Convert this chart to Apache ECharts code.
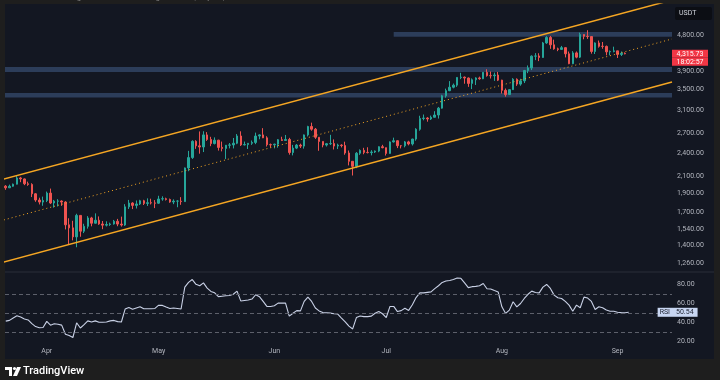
<!DOCTYPE html>
<html><head><meta charset="utf-8">
<script src="https://cdn.jsdelivr.net/npm/echarts@6/dist/echarts.min.js"></script>
<style>html,body{margin:0;padding:0;background:#1e1e1e;}#c{width:720px;height:380px;}</style>
</head><body><div id="c"></div>
<script>
// Daily ETH/USDT candles, index 0 = 2025-03-21, last = 2025-09-03
const monthLabels = ['Apr','May','Jun','Jul','Aug','Sep'];
const monthStartIndex = [11,41,72,102,133,164];

const open = [1983,1964,1982,2006,2081,2069,2011,2003,1896,1828,1806,
1822,1904,1796,1816,1817,1806,1580,1552,1472,1670,1522,1566,1645,1595,1623,1588,1577,1583,1588,1613,1587,1578,1756,1796,1771,1786,1820,1792,1799,1797,
1794,1839,1842,1834,1807,1816,1816,1811,2207,2345,2581,2513,2496,2680,2609,2547,2598,2490,2475,2522,2527,2552,2663,2527,2532,2551,2564,2662,2680,2634,2531,
2528,2538,2605,2594,2609,2416,2480,2524,2509,2680,2815,2771,2643,2579,2525,2545,2547,2510,2524,2517,2410,2295,2228,2406,2447,2418,2415,2424,2437,2500,
2486,2404,2572,2590,2515,2514,2572,2541,2615,2770,2952,2959,2943,2972,3012,3136,3372,3475,3546,3590,3756,3762,3743,3627,3705,3745,3727,3871,3796,3794,3810,
3697,3482,3396,3496,3717,3612,3681,3911,3971,4256,4262,4223,4600,4751,4550,4443,4429,4474,4315,4072,4339,4232,4833,4784,4776,4376,4600,4510,4508,4365,4376,
4391,4300,4328];
const close = [1964,1982,2006,2081,2069,2011,2003,1896,1828,1806,1822,
1904,1796,1816,1817,1806,1580,1552,1472,1670,1522,1566,1645,1595,1623,1588,1577,1583,1588,1613,1587,1578,1756,1796,1771,1786,1820,1792,1799,1797,1794,
1839,1842,1834,1807,1816,1816,1811,2207,2345,2581,2513,2496,2680,2609,2547,2598,2490,2475,2522,2527,2552,2663,2527,2532,2551,2564,2662,2680,2634,2531,2528,
2538,2605,2594,2609,2416,2480,2524,2509,2680,2815,2771,2643,2579,2525,2545,2547,2510,2524,2517,2410,2295,2228,2406,2447,2418,2415,2424,2437,2500,2486,
2404,2572,2590,2515,2514,2572,2541,2615,2770,2952,2959,2943,2972,3012,3136,3372,3475,3546,3590,3756,3762,3743,3627,3705,3745,3727,3871,3796,3794,3810,3697,
3482,3396,3496,3717,3612,3681,3911,3971,4256,4262,4223,4600,4751,4550,4443,4429,4474,4315,4072,4339,4232,4833,4784,4776,4376,4600,4510,4508,4365,4376,4391,
4300,4328,4315.73];
const high = [1995,2001,2013,2104,2094,2074,2036,2017,1904,1853,1865,
1921,1955,1829,1837,1824,1815,1642,1618,1686,1673,1590,1663,1656,1690,1660,1616,1613,1600,1626,1636,1658,1784,1829,1804,1823,1830,1830,1846,1842,1827,
1874,1868,1853,1843,1835,1826,1859,2212,2440,2596,2597,2735,2738,2724,2650,2641,2604,2577,2514,2555,2632,2693,2737,2577,2553,2593,2716,2690,2788,2659,2547,
2545,2616,2651,2679,2634,2527,2540,2545,2686,2827,2880,2791,2643,2579,2556,2681,2610,2545,2537,2575,2445,2296,2423,2461,2484,2492,2450,2445,2507,2528,
2487,2580,2637,2595,2522,2586,2589,2620,2787,2999,3021,2975,3002,3080,3158,3392,3517,3676,3624,3762,3860,3776,3755,3734,3760,3774,3874,3941,3889,3864,3880,
3705,3520,3504,3740,3735,3726,3926,4030,4276,4333,4330,4628,4787,4793,4690,4475,4520,4485,4374,4383,4375,4887,4840,4957,4790,4616,4665,4626,4530,4400,4500,
4392,4375,4352];
const low = [1941,1962,1976,2003,2030,1995,1987,1860,1809,1781,1767,
1806,1785,1748,1760,1766,1538,1411,1442,1385,1473,1505,1545,1566,1592,1580,1540,1565,1570,1582,1567,1564,1570,1734,1733,1739,1775,1775,1765,1781,1743,
1787,1820,1823,1799,1784,1752,1777,1808,2165,2327,2469,2400,2423,2587,2508,2534,2444,2433,2325,2476,2475,2538,2511,2520,2467,2527,2538,2612,2630,2503,2489,
2476,2486,2587,2593,2386,2376,2465,2481,2472,2656,2747,2618,2441,2491,2503,2525,2460,2466,2490,2385,2240,2111,2204,2383,2392,2404,2376,2410,2421,2477,
2374,2399,2562,2480,2475,2491,2520,2518,2590,2747,2920,2896,2925,2970,2950,3127,3335,3465,3523,3554,3718,3620,3554,3508,3593,3705,3719,3774,3732,3681,3677,
3417,3355,3390,3490,3575,3578,3634,3852,3922,4158,4134,4217,4575,4444,4420,4383,4417,4225,4060,4060,4203,4211,4700,4711,4319,4311,4475,4445,4277,4277,4353,
4210,4260,4303];

const rsi = [41.2,42,44.5,46.8,45.5,43.5,42.5,38.6,35.5,34.2,34.5,
41,37,38.4,38,37,27.5,26,24,39.5,34,37.5,41.5,40.3,41.5,40,40,40.3,41.5,42,40.7,40.3,53.9,55.5,53.7,55,56.3,54.2,54.2,54.3,54.6,
58,57.8,56,54.6,55,54.5,54,77,82,85,80,78.5,81.5,76,72.5,71,67,67.5,68,68.2,69.5,72.8,62.5,63,63.5,64.5,69,67,62,56.7,56.7,
57.5,60.2,60.2,60.2,46.5,49.5,52.3,52,62,66.5,62,55,52,50.2,50,49.7,49,48.7,44.5,40.5,36,33,45,46.7,46,46,46.5,49.5,51.3,49,
45,56.7,56.7,51.3,52.3,54.8,52.5,58.5,66,71,71,71.5,72,75.5,78.5,82,83.5,84,85,86.7,86.3,81.5,76.5,77.5,77.8,78.5,80.8,75.3,75.1,73.5,72,
56.3,49.3,52.8,61.6,56.3,59.8,65.1,69.5,72.8,71.4,71,77,79.8,75.6,68.6,65.8,65.1,62,58.1,51.7,58.1,55.3,66.5,65.5,62,53.5,56.3,55.3,53,51.7,51.7,50.5,
50.2,50.1,50.54];

const priceTicks = [4800,3900,3500,3100,2700,2400,2100,1900,1700,1540,1400,1260];
const rsiTicks = [80,60,40,20];
const rsiLevels = [70,50,30];
const lastPrice = 4315.73;
const lastRsi = 50.54;
const countdown = '18:02:57';

// channel endpoints [dayIndex, price]
const channelUpper = [[-1.54,2056],[178.6,5920]];
const channelMid = [[-1.54,1616],[178.6,4708]];
const channelLower = [[-1.54,1262.5],[178.6,3655]];
// horizontal zones [startIndex, endIndex, lowPrice, highPrice]
const zones = [[104,178.6,4772,4905],[-0.2,178.6,3878,3994],[-0.2,178.6,3338,3428]];

const fmt = v => v.toLocaleString('en-US',{minimumFractionDigits:2,maximumFractionDigits:2});
const candleRows = open.map((o,i)=>[i,o,close[i],low[i],high[i]]);
const rsiRows = rsi.map((v,i)=>[i,v]);

const AX = '#b2b5be', FONT = 'Roboto, "Noto Sans", sans-serif';
const chart = echarts.init(document.getElementById('c'), null, {width:720,height:380});
const option = {
  animation:false,
  backgroundColor:'#1e1e1e',
  textStyle:{fontFamily:FONT},
  grid:[{left:5,top:4,width:667,height:267},{left:5,top:273,width:667,height:71}],
  xAxis:[
    {type:'value',gridIndex:0,min:-0.2,max:178.6,show:false},
    {type:'value',gridIndex:1,min:-0.2,max:178.6,axisLine:{show:false},axisTick:{show:false},splitLine:{show:false},
     axisLabel:{customValues:monthStartIndex,formatter:v=>monthLabels[monthStartIndex.indexOf(v)]||'',color:AX,fontSize:7,margin:4,fontFamily:FONT}}
  ],
  yAxis:[
    {type:'log',gridIndex:0,min:1204.6,max:5782.6,show:false},
    {type:'value',gridIndex:1,min:17.16,max:91.89,show:false}
  ],
  graphic:[
    {type:'rect',shape:{x:5,y:4,width:709,height:355},style:{fill:'#131722'},z:-10,silent:true},
    {type:'line',shape:{x1:5,y1:272,x2:714,y2:272},style:{stroke:'#2a2e39',lineWidth:1},z:-5},
    {type:'text',left:6,top:-6,style:{text:'ETHUSDT chart image created with TradingView.com, Sep 03, 2025 05:57 UTC',fill:'#8a8a8a',fontSize:8,fontFamily:FONT},z:10},
    {type:'rect',shape:{x:675,y:7,width:37,height:13,r:2},style:{fill:'#0c0e14'},z:10},
    {type:'text',left:679,top:10,style:{text:'USDT',fill:'#d1d4dc',fontSize:7,fontFamily:FONT},z:11},
    {type:'rect',shape:{x:5,y:367,width:7,height:3},style:{fill:'#ffffff'},z:10},
    {type:'rect',shape:{x:9,y:367,width:3,height:9},style:{fill:'#ffffff'},z:10},
    {type:'circle',shape:{cx:14.5,cy:368.5,r:1.6},style:{fill:'#ffffff'},z:10},
    {type:'polygon',shape:{points:[[17,367],[21,367],[17,376],[13,376]]},style:{fill:'#ffffff'},z:10},
    {type:'text',left:23,top:366,style:{text:'TradingView',fill:'#ffffff',fontSize:11,fontWeight:500,fontFamily:FONT},z:10}
  ],
  series:[
    {type:'candlestick',xAxisIndex:0,yAxisIndex:0,data:candleRows,barWidth:2,
     itemStyle:{color:'#26a69a',color0:'#ef5350',borderColor:'#26a69a',borderColor0:'#ef5350',borderWidth:1},
     markArea:{silent:true,itemStyle:{color:'#2c3d5a'},
       data:zones.map(z=>[{xAxis:z[0],yAxis:z[2]},{xAxis:z[1],yAxis:z[3]}])},
     markLine:{silent:true,symbol:['none','none'],animation:false,
       lineStyle:{color:'rgba(0,0,0,0)',width:0},
       label:{position:'end',distance:5,color:AX,fontSize:7,fontFamily:FONT},
       data:priceTicks.map(v=>({yAxis:v,label:{formatter:fmt(v)}})).concat([
         {yAxis:lastPrice,label:{distance:0,formatter:'{e| }\n{p|'+fmt(lastPrice)+'}\n{t|'+countdown+'}',
           rich:{e:{height:8,lineHeight:8,fontSize:7},
                 p:{width:36,height:8,lineHeight:8,backgroundColor:'#f23645',color:'#ffffff',fontSize:7,align:'center'},
                 t:{width:36,height:8,lineHeight:8,backgroundColor:'#f23645',color:'#ffffff',fontSize:7,align:'center'}}}}
       ])}
    },
    {type:'line',xAxisIndex:0,yAxisIndex:0,data:channelUpper,showSymbol:false,lineStyle:{color:'#f5a623',width:1.5},z:3},
    {type:'line',xAxisIndex:0,yAxisIndex:0,data:channelLower,showSymbol:false,lineStyle:{color:'#f5a623',width:1.5},z:3},
    {type:'line',xAxisIndex:0,yAxisIndex:0,data:channelMid,showSymbol:false,lineStyle:{color:'#f5a623',width:1,type:[1,3]},z:3},
    {type:'line',xAxisIndex:1,yAxisIndex:1,data:rsiRows,showSymbol:false,lineStyle:{color:'#c9d1e6',width:1.1},
     markLine:{silent:true,symbol:['none','none'],animation:false,
       data:rsiLevels.map(v=>({yAxis:v,lineStyle:{color:'#5d606b',width:1,type:[4,3]},label:{show:false}}))
         .concat(rsiTicks.map(v=>({yAxis:v,lineStyle:{color:'rgba(0,0,0,0)',width:0},label:{position:'end',distance:5,formatter:fmt(v),color:AX,fontSize:7}})))
         .concat([
           {yAxis:lastRsi,lineStyle:{color:'rgba(0,0,0,0)',width:0},label:{position:'insideEnd',distance:0,formatter:'RSI',color:'#1e2230',backgroundColor:'#c8d6f2',padding:[1,2,1,2],fontSize:7}},
           {yAxis:lastRsi,lineStyle:{color:'rgba(0,0,0,0)',width:0},label:{position:'end',distance:0,formatter:fmt(lastRsi),color:'#1e2230',backgroundColor:'#c8d6f2',padding:[1,4,1,4],fontSize:7}}
         ])}
    }
  ]
};
chart.setOption(option);
</script></body></html>
